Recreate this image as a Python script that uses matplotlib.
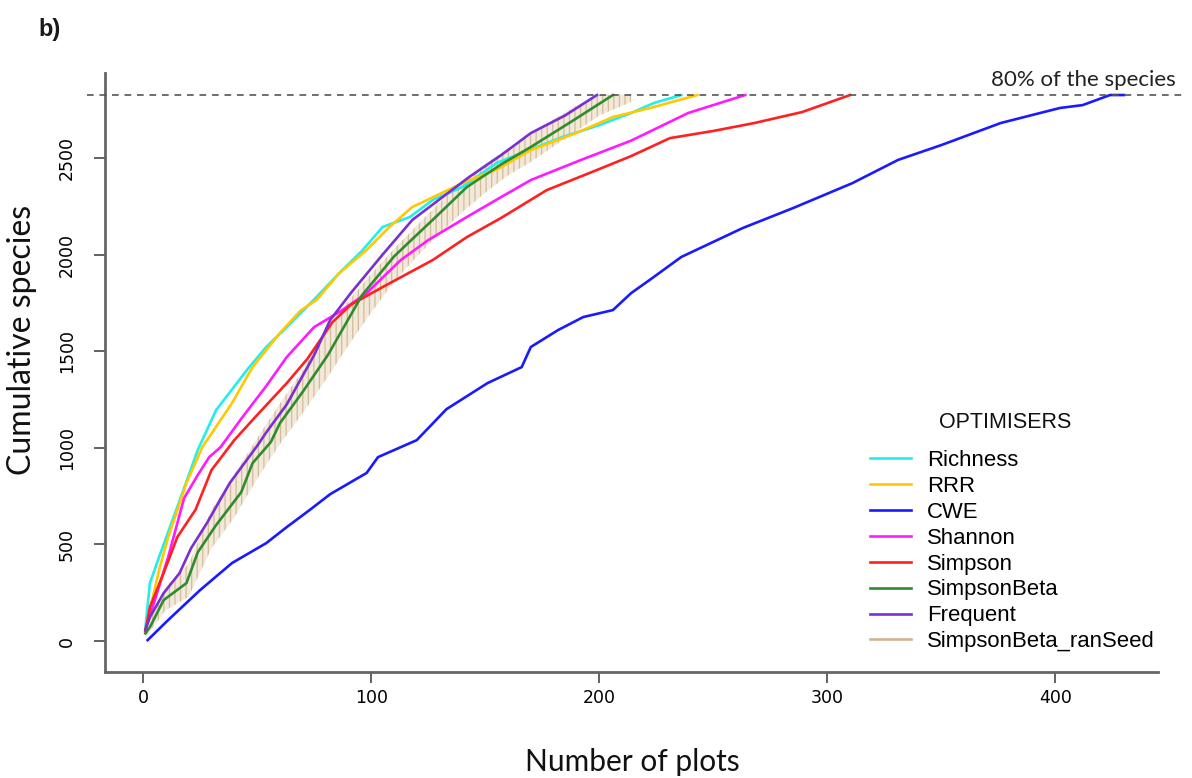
import matplotlib
matplotlib.use("Agg")
import matplotlib.pyplot as plt

# values (plots, cumulative species)
richness_x = [1, 3, 7, 15, 24, 32, 46, 54, 63, 76, 86, 96, 105, 117, 127, 140, 155, 170, 184, 200, 214, 224, 236]
richness_y = [70, 300, 435, 694, 990, 1195, 1410, 1522, 1625, 1780, 1904, 2020, 2143, 2195, 2283, 2350, 2474, 2545, 2609, 2670, 2733, 2785, 2826]

rrr_x = [1, 7, 11, 19, 26, 39, 48, 60, 69, 76, 86, 98, 108, 118, 140, 155, 170, 190, 206, 224, 243]
rrr_y = [60, 367, 538, 818, 1004, 1232, 1418, 1594, 1710, 1765, 1904, 2024, 2143, 2246, 2370, 2440, 2541, 2630, 2712, 2764, 2826]

cwe_x = [2, 11, 25, 39, 54, 63, 73, 82, 98, 103, 120, 133, 151, 166, 170, 182, 193, 206, 214, 222,
         236, 263, 285, 311, 331, 350, 376, 402, 412, 424, 430]
cwe_y = [5, 109, 264, 404, 507, 590, 678, 760, 870, 952, 1040, 1200, 1335, 1418, 1522, 1610, 1677, 1713, 1801, 1868,
         1988, 2138, 2241, 2370, 2490, 2567, 2681, 2759, 2774, 2826, 2826]

shannon_x = [1, 11, 18, 24, 29, 34, 43, 54, 63, 75, 87, 98, 113, 125, 142, 157, 170, 192, 214, 239, 264]
shannon_y = [55, 435, 740, 860, 952, 1004, 1150, 1320, 1470, 1625, 1710, 1801, 1972, 2075, 2195, 2298, 2386, 2490, 2590, 2733, 2826]

simpson_x = [1, 3, 9, 15, 23, 30, 40, 50, 63, 72, 83, 91, 105, 127, 142, 157, 177, 199, 214, 231, 250, 268, 289, 310]
simpson_y = [50, 176, 352, 538, 680, 885, 1040, 1170, 1335, 1460, 1650, 1740, 1832, 1972, 2091, 2190, 2334, 2438, 2510, 2603, 2640, 2681, 2738, 2826]

beta_x = [1, 3, 9, 19, 24, 32, 43, 48, 56, 60, 70, 81, 96, 110, 118, 127, 142, 157, 170, 188, 206]
beta_y = [40, 72, 212, 300, 460, 600, 770, 921, 1030, 1128, 1290, 1480, 1790, 1990, 2080, 2180, 2350, 2467, 2557, 2690, 2826]

frequent_x = [1, 3, 9, 16, 21, 28, 38, 50, 54, 63, 75, 82, 91, 105, 118, 143, 157, 170, 185, 199]
frequent_y = [60, 124, 248, 352, 480, 611, 818, 1010, 1080, 1225, 1480, 1661, 1800, 2000, 2179, 2402, 2515, 2629, 2720, 2826]

# spread of the random-seed runs
seed_x = [1, 10, 20, 30, 40, 50, 60, 70, 80, 90, 100, 110, 120, 130, 140, 150, 160, 170, 180, 190, 200, 214]
seed_lo = [20, 160, 230, 480, 640, 840, 1020, 1180, 1350, 1530, 1700, 1860, 1990, 2110, 2220, 2320, 2410, 2480, 2560, 2640, 2720, 2790]
seed_hi = [60, 280, 400, 680, 860, 1050, 1230, 1400, 1600, 1760, 1900, 2030, 2150, 2270, 2380, 2470, 2550, 2620, 2700, 2770, 2826, 2830]

target = 2826
x_ticks = [0, 100, 200, 300, 400]
y_ticks = [0, 500, 1000, 1500, 2000, 2500]

series = [
    ("Richness", richness_x, richness_y, "#22EEEE"),
    ("RRR", rrr_x, rrr_y, "#FFC800"),
    ("CWE", cwe_x, cwe_y, "#1A1AFF"),
    ("Shannon", shannon_x, shannon_y, "#FF1AFF"),
    ("Simpson", simpson_x, simpson_y, "#FF2020"),
    ("SimpsonBeta", beta_x, beta_y, "#2E8B2E"),
    ("Frequent", frequent_x, frequent_y, "#7A30D0"),
]
seed_color = "#D2B48C"

W, H = 1192, 778
fig = plt.figure(figsize=(W / 100, H / 100), dpi=100)
ax = fig.add_axes([105 / W, 1 - 672 / H, (1158 - 105) / W, (672 - 73) / H])

# random seed band: tan vertical hatching
plt.rcParams["hatch.linewidth"] = 0.9
ax.fill_between(seed_x, seed_lo, seed_hi, facecolor="#F2E9DA", edgecolor="#D3BD98",
                hatch="|||", linewidth=0, zorder=1)

handles = []
for name, xs, ys, col in series:
    ln, = ax.plot(xs, ys, color=col, lw=1.9, zorder=3 if name != "CWE" else 2)
    handles.append(ln)
seed_handle, = ax.plot([], [], color=seed_color, lw=1.9)
handles.append(seed_handle)

ax.axhline(target, xmin=-0.017, xmax=1.026, color="#555555", ls=(0, (4, 3.5)), lw=1.2,
           clip_on=False, zorder=4)
fig.text(1176 / W, 1 - 80 / H, "80% of the species", ha="right", va="center",
         fontsize=16, family="Lato", color="#222222")

ax.set_xlim(-16.7, 445)
ax.set_ylim(-160, 2940)
ax.set_xticks(x_ticks)
ax.set_yticks(y_ticks)
ax.set_xticklabels([str(v) for v in x_ticks], family="Liberation Sans Narrow", fontsize=12.5)
ax.set_yticklabels([str(v) for v in y_ticks], family="Liberation Sans Narrow", fontsize=12.5,
                   rotation=90, va="center")
ax.tick_params(axis="both", length=8, width=1.3, color="#555555")
ax.tick_params(axis="x", pad=4)
ax.tick_params(axis="y", pad=13)

for side in ("top", "right"):
    ax.spines[side].set_visible(False)
for side in ("left", "bottom"):
    ax.spines[side].set_color("#666666")
    ax.spines[side].set_linewidth(2)

fig.text(632 / W, 1 - 762 / H, "Number of plots", family="Lato", fontsize=21.5,
         ha="center", va="center", color="#111111")
fig.text(22 / W, 1 - 340 / H, "Cumulative species", family="Lato", fontsize=23,
         ha="center", va="center", rotation=90, color="#111111")

names = [s[0] for s in series] + ["SimpsonBeta_ranSeed"]
leg = ax.legend(handles, names, loc="lower right",
                bbox_to_anchor=(1.016, 0.0), frameon=False,
                prop={"family": "Liberation Sans", "size": 15.9},
                handlelength=1.85, handletextpad=0.75, labelspacing=0.22)
fig.text(1005 / W, 1 - 423 / H, "OPTIMISERS", family="Liberation Sans", fontsize=15.5,
         ha="center", va="center", color="#111111")

fig.text(0.032, 0.962, "b)", fontsize=17, fontweight="bold", family="Liberation Sans",
         color="#1a1a1a", va="center")

fig.savefig("out.png", dpi=100)
